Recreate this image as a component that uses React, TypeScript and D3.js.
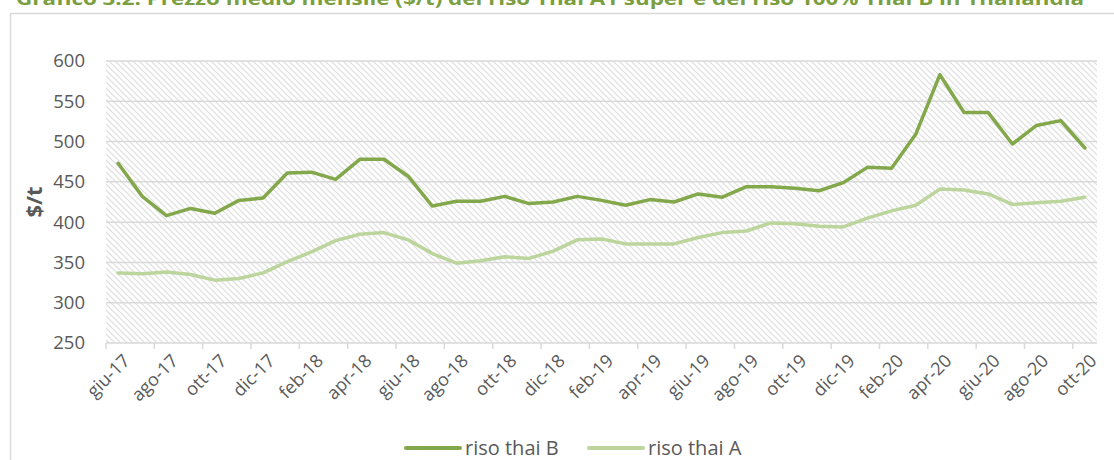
import { scaleBand, scaleLinear, line } from "d3";

const months = [
  "giu-17", "lug-17", "ago-17", "set-17", "ott-17", "nov-17", "dic-17",
  "gen-18", "feb-18", "mar-18", "apr-18", "mag-18", "giu-18", "lug-18", "ago-18", "set-18", "ott-18", "nov-18", "dic-18",
  "gen-19", "feb-19", "mar-19", "apr-19", "mag-19", "giu-19", "lug-19", "ago-19", "set-19", "ott-19", "nov-19", "dic-19",
  "gen-20", "feb-20", "mar-20", "apr-20", "mag-20", "giu-20", "lug-20", "ago-20", "set-20", "ott-20",
];

const thaiB = [
  473, 432, 408, 417, 411, 427, 430, 461, 462, 453, 478, 478, 457, 420, 426, 426, 432, 423, 425, 432, 427,
  421, 428, 425, 435, 431, 444, 444, 442, 439, 449, 468, 467, 509, 583, 536, 536, 497, 520, 526, 492,
];

const thaiA = [
  337, 336, 338, 335, 328, 330, 337, 351, 363, 377, 385, 387, 378, 361, 349, 352, 357, 355, 364, 378, 379,
  373, 373, 373, 381, 387, 389, 399, 398, 395, 394, 405, 414, 421, 441, 440, 435, 422, 424, 426, 431,
];

const yTicks = [250, 300, 350, 400, 450, 500, 550, 600];

const title =
  "Grafico 3.2: Prezzo medio mensile ($/t) del riso Thai A1 super e del riso 100% Thai B in Thailandia";

const W = 1114;
const H = 460;
const font = "'Open Sans', sans-serif";
const darkGreen = "#83a74b";
const lightGreen = "#bcd59d";
const gridColor = "#d9d9d9";
const textColor = "#595959";

export default function App() {
  const x = scaleBand<string>().domain(months).range([106, 1097]).padding(0);
  const y = scaleLinear().domain([250, 600]).range([343, 61]);
  const cx = (m: string) => (x(m) ?? 0) + x.bandwidth() / 2;

  const path = line<number>()
    .x((_, i) => cx(months[i]))
    .y((d) => y(d));

  const series = [
    { name: "riso thai B", values: thaiB, color: darkGreen },
    { name: "riso thai A", values: thaiA, color: lightGreen },
  ];

  return (
    <svg width={W} height={H} style={{ position: "absolute", left: 0, top: 0 }} fontFamily={font}>
      <defs>
        <pattern id="hatch" width="6" height="6" patternUnits="userSpaceOnUse">
          <rect width="6" height="6" fill="#fff" />
          <path d="M-1,-1 L7,7 M-1,5 L1,7 M5,-1 L7,1" stroke="#dedede" strokeWidth="1.2" />
        </pattern>
      </defs>
      <rect width={W} height={H} fill="#fff" />

      {/* title, cut off by the top edge as in the source */}
      <text
        x={16}
        y={5}
        fontSize={18}
        fontWeight="bold"
        fill="#7b9e3e"
        textLength={1068}
        lengthAdjust="spacingAndGlyphs"
      >
        {title}
      </text>

      <rect x={10.5} y={13.5} width={W + 10} height={H + 10} fill="none" stroke={gridColor} strokeWidth={1.5} />

      <rect x={106} y={61} width={991} height={282} fill="url(#hatch)" />

      {yTicks.slice(1).map((t) => (
        <line key={t} x1={106} x2={1097} y1={y(t)} y2={y(t)} stroke={gridColor} strokeWidth={1.5} />
      ))}
      {yTicks.map((t) => (
        <text key={t} x={85} y={y(t)} dy="0.35em" textAnchor="end" fontSize={18.5} fill={textColor}>
          {t}
        </text>
      ))}

      <text
        transform={`translate(42,${y(425)}) rotate(-90)`}
        textAnchor="middle"
        fontSize={22}
        fontWeight="bold"
        fill={textColor}
      >
        $/t
      </text>

      <line x1={106} x2={1097} y1={343} y2={343} stroke={gridColor} strokeWidth={1.5} />
      {months.map((m, i) =>
        i % 2 === 0 ? (
          <g key={m}>
            <line x1={x(m)} x2={x(m)} y1={343} y2={349} stroke={gridColor} strokeWidth={1.5} />
            <text
              transform={`translate(${cx(m) + 4},${353}) rotate(-45)`}
              textAnchor="end"
              dy="0.7em"
              fontSize={18}
              fill={textColor}
            >
              {m}
            </text>
          </g>
        ) : null
      )}

      {series.map((s) => (
        <path
          key={s.name}
          d={path(s.values) ?? ""}
          fill="none"
          stroke={s.color}
          strokeWidth={3.5}
          strokeLinejoin="round"
          strokeLinecap="round"
        />
      ))}

      {series.map((s, i) => {
        const lx = 406 + i * 183;
        return (
          <g key={s.name}>
            <line x1={lx} x2={lx + 54} y1={448} y2={448} stroke={s.color} strokeWidth={4} strokeLinecap="round" />
            <text x={lx + 59} y={448} dy="0.35em" fontSize={20} fill={textColor}>
              {s.name}
            </text>
          </g>
        );
      })}
    </svg>
  );
}
